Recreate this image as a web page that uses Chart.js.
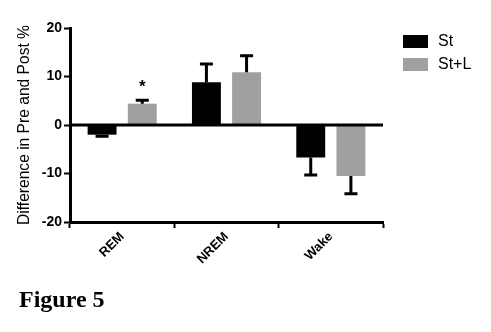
<!DOCTYPE html>
<html>
<head>
<meta charset="utf-8">
<script src="https://cdn.jsdelivr.net/npm/chart.js@4"></script>
<style>
  html, body { margin: 0; padding: 0; background: #fff; }
  #wrap { position: relative; width: 491px; height: 332px; }
  #fig { position: absolute; left: 19px; top: 286px; font: bold 24px "Liberation Serif", "Times New Roman", serif; color: #000; }
</style>
</head>
<body>
<div id="wrap">
  <canvas id="chart" width="491" height="332"></canvas>
  <div id="fig">Figure 5</div>
</div>
<script>
// ================= DATA =================
const categories = ["REM", "NREM", "Wake"];
const stValues = [-2.0, 8.8, -6.7];
const stErrors = [0.3, 3.8, 3.6];
const stlValues = [4.4, 10.9, -10.5];
const stlErrors = [0.7, 3.4, 3.7];
const stlMarks = ["*", "", ""];
const yTicks = [-20, -10, 0, 10, 20];

const FONT = "'Liberation Sans', Arial, sans-serif";

// ================= PLUGINS =================
// one-sided error bars (away from zero) + significance marks
const errorBars = {
  id: "errorBars",
  afterDatasetsDraw(chart) {
    const ctx = chart.ctx;
    const y = chart.scales.y;
    chart.data.datasets.forEach((ds, di) => {
      const meta = chart.getDatasetMeta(di);
      meta.data.forEach((bar, i) => {
        const v = ds.data[i];
        const e = ds.errors[i];
        const end = v >= 0 ? v + e : v - e;
        const y0 = y.getPixelForValue(v);
        const y1 = y.getPixelForValue(end);
        ctx.save();
        ctx.strokeStyle = "#000";
        ctx.lineWidth = 3;
        ctx.beginPath();
        ctx.moveTo(bar.x, y0);
        ctx.lineTo(bar.x, y1);
        ctx.moveTo(bar.x - 6.5, y1);
        ctx.lineTo(bar.x + 6.5, y1);
        ctx.stroke();
        if (ds.marks && ds.marks[i]) {
          ctx.fillStyle = "#000";
          ctx.font = "bold 17px " + FONT;
          ctx.textAlign = "center";
          ctx.textBaseline = "middle";
          ctx.fillText(ds.marks[i], bar.x, y1 - 13);
        }
        ctx.restore();
      });
    });
  }
};

// zero line across the plot + legend on the right
const extras = {
  id: "extras",
  afterDraw(chart) {
    const ctx = chart.ctx;
    const area = chart.chartArea;
    const y0 = chart.scales.y.getPixelForValue(0);
    ctx.save();
    ctx.strokeStyle = "#000";
    ctx.lineWidth = 3;
    ctx.beginPath();
    ctx.moveTo(area.left, y0);
    ctx.lineTo(area.right, y0);
    ctx.stroke();

    ctx.font = "16px " + FONT;
    ctx.textBaseline = "middle";
    chart.data.datasets.forEach((ds, i) => {
      const top = area.top + 7 + i * 23;
      ctx.fillStyle = ds.backgroundColor;
      ctx.fillRect(area.right + 20, top, 25, 13);
      ctx.fillStyle = "#000";
      ctx.fillText(ds.label, area.right + 55, top + 7);
    });
    ctx.restore();
  }
};

// ================= CHART =================
new Chart(document.getElementById("chart"), {
  type: "bar",
  data: {
    labels: categories,
    datasets: [
      { label: "St", data: stValues, errors: stErrors, backgroundColor: "#000000",
        barPercentage: 0.72, categoryPercentage: 0.77 },
      { label: "St+L", data: stlValues, errors: stlErrors, marks: stlMarks, backgroundColor: "#a0a0a2",
        barPercentage: 0.72, categoryPercentage: 0.77 }
    ]
  },
  options: {
    responsive: false,
    animation: false,
    layout: { padding: { top: 28, right: 108, bottom: 0, left: 0 } },
    plugins: { legend: { display: false }, tooltip: { enabled: false } },
    scales: {
      x: {
        afterFit(scale) { scale.height = 110; },
        border: { color: "#000", width: 3 },
        grid: { drawOnChartArea: false, tickLength: 6, tickColor: "#000", tickWidth: 2 },
        ticks: {
          color: "#000",
          font: { family: FONT, size: 13, weight: "bold" },
          minRotation: 45,
          maxRotation: 45,
          padding: 1
        }
      },
      y: {
        min: -20,
        max: 20,
        afterFit(scale) { scale.width = 70; },
        afterBuildTicks(scale) { scale.ticks = yTicks.map(v => ({ value: v })); },
        border: { color: "#000", width: 3 },
        grid: { drawOnChartArea: false, tickLength: 6, tickColor: "#000", tickWidth: 2 },
        ticks: {
          color: "#000",
          font: { family: FONT, size: 14, weight: "bold" },
          padding: 2
        },
        title: {
          display: true,
          text: "Difference in Pre and Post %",
          color: "#000",
          font: { family: FONT, size: 15.6 },
          padding: { top: 15, bottom: 0 }
        }
      }
    }
  },
  plugins: [errorBars, extras]
});
</script>
</body>
</html>
